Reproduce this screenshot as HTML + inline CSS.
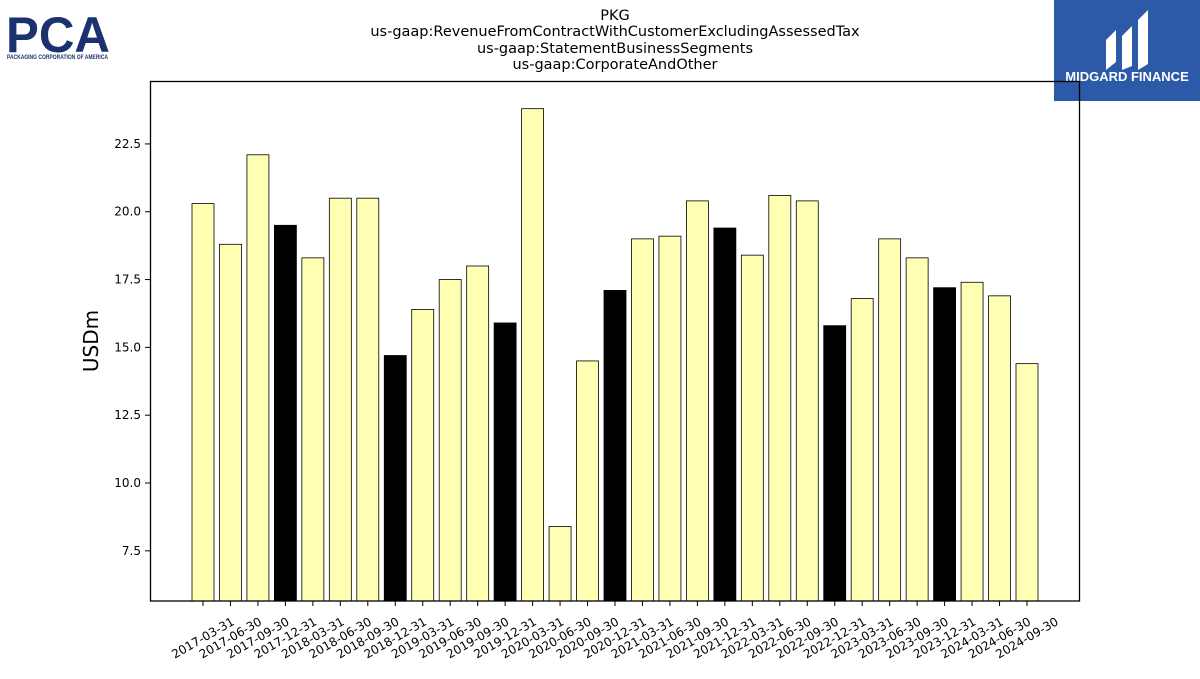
<!DOCTYPE html>
<html><head><meta charset="utf-8"><style>
body{margin:0;background:#fff;width:1200px;height:675px;overflow:hidden;font-family:"DejaVu Sans","Liberation Sans",sans-serif}
</style></head><body>
<svg width="1200" height="675" xmlns="http://www.w3.org/2000/svg">
<g>
<text x="6" y="52" font-family="Liberation Sans" font-weight="bold" font-size="50" fill="#1c3170" textLength="104" lengthAdjust="spacingAndGlyphs">PCA</text>
<text x="7" y="59" font-family="Liberation Sans" font-weight="bold" font-size="6" fill="#1c3170" textLength="101" lengthAdjust="spacingAndGlyphs">PACKAGING CORPORATION OF AMERICA</text>
</g>
<g>
<rect x="1054" y="0" width="146" height="101" fill="#2c5aa8"/>
<path d="M1106 70 L1106 40 L1116 30 L1116 62 Z M1122 70 L1122 36 L1132 26 L1132 66 Z M1138 70 L1138 20 L1148 10 L1148 64 Z" fill="#fff"/>
<text x="1127" y="81" text-anchor="middle" font-family="Liberation Sans" font-weight="bold" font-size="13" fill="#fff">MIDGARD FINANCE</text>
</g>
<g font-size="14.5" text-anchor="middle" fill="#000">
<text x="615" y="20">PKG</text>
<text x="615" y="36">us-gaap:RevenueFromContractWithCustomerExcludingAssessedTax</text>
<text x="615" y="53">us-gaap:StatementBusinessSegments</text>
<text x="615" y="69">us-gaap:CorporateAndOther</text>
</g>
<text transform="translate(98,341) rotate(-90)" text-anchor="middle" font-size="20">USDm</text>
<g id="bars"></g>
<g id="yticks"></g>
<g id="xticks"></g>
<rect x="150.5" y="81.5" width="929" height="519.5" fill="none" stroke="#000" stroke-width="1.3"/>
</svg>
<script>
const categories=["2017-03-31","2017-06-30","2017-09-30","2017-12-31","2018-03-31","2018-06-30","2018-09-30","2018-12-31","2019-03-31","2019-06-30","2019-09-30","2019-12-31","2020-03-31","2020-06-30","2020-09-30","2020-12-31","2021-03-31","2021-06-30","2021-09-30","2021-12-31","2022-03-31","2022-06-30","2022-09-30","2022-12-31","2023-03-31","2023-06-30","2023-09-30","2023-12-31","2024-03-31","2024-06-30","2024-09-30"];
const values=[20.3,18.8,22.1,19.5,18.3,20.5,20.5,14.7,16.4,17.5,18.0,15.9,23.8,8.4,14.5,17.1,19.0,19.1,20.4,19.4,18.4,20.6,20.4,15.8,16.8,19.0,18.3,17.2,17.4,16.9,14.4];
const yTicks=[7.5,10.0,12.5,15.0,17.5,20.0,22.5];
const ns="http://www.w3.org/2000/svg";
const yMin=5.65,yMax=24.82,yTop=81,yBot=601;
const y=v=>yBot-(v-yMin)/(yMax-yMin)*(yBot-yTop);
const x0=203,step=(1027-203)/30;
const x=i=>x0+i*step;
const bw=22;
const gb=document.getElementById('bars'),gy=document.getElementById('yticks'),gx=document.getElementById('xticks');
values.forEach((v,i)=>{
 const r=document.createElementNS(ns,'rect');
 
 
 r.setAttribute('x',x(i)-bw/2);r.setAttribute('y',y(v));
 r.setAttribute('width',bw);r.setAttribute('height',yBot-y(v));
 r.setAttribute('fill',categories[i].endsWith('12-31')?'#000':'#ffffb3');
 r.setAttribute('stroke','#000');r.setAttribute('stroke-width','0.8');
 gb.appendChild(r);
 const t=document.createElementNS(ns,'line');
 
 
 t.setAttribute('x1',x(i));t.setAttribute('x2',x(i));t.setAttribute('y1',yBot);t.setAttribute('y2',yBot+5);t.setAttribute('stroke','#000');
 gx.appendChild(t);
 const l=document.createElementNS(ns,'text');
 
 
 l.setAttribute('transform','translate('+x(i)+',638) rotate(-30)');
 l.setAttribute('text-anchor','middle');l.setAttribute('font-size','12');l.setAttribute('dy','4');
 l.textContent=categories[i];gx.appendChild(l);
});
yTicks.forEach(v=>{
 const t=document.createElementNS(ns,'line');
 
 
 t.setAttribute('x1',145);t.setAttribute('x2',150);t.setAttribute('y1',y(v));t.setAttribute('y2',y(v));t.setAttribute('stroke','#000');
 gy.appendChild(t);
 const l=document.createElementNS(ns,'text');
 
 
 l.setAttribute('x',141);l.setAttribute('y',y(v)+4);l.setAttribute('text-anchor','end');l.setAttribute('font-size','12');
 l.textContent=v.toFixed(1);gy.appendChild(l);
});
</script>
</body></html>
